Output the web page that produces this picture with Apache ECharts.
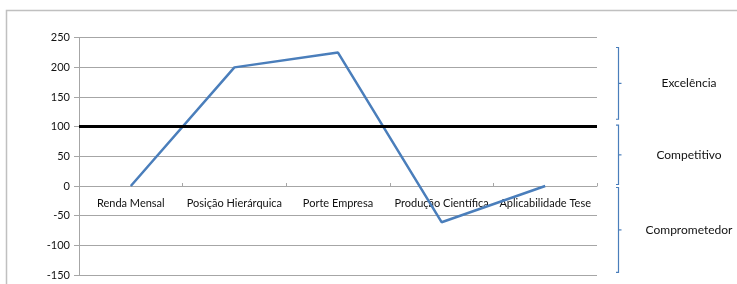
<!DOCTYPE html>
<html>
<head>
<meta charset="utf-8">
<script src="https://cdn.jsdelivr.net/npm/echarts@6/dist/echarts.min.js"></script>
<style>
  html, body { margin: 0; padding: 0; background: #fff; }
  #chart { width: 737px; height: 284px; }
</style>
</head>
<body>
<div id="chart"></div>
<script>
// data
const categories = ['Renda Mensal', 'Posição Hierárquica', 'Porte Empresa', 'Produção Científica', 'Aplicabilidade Tese'];
const scores = [0, 200, 225, -61, 0];
const threshold = 100;
// bracket bands on the right: [name, top value, bottom value]
const bandNames = ['Excelência', 'Competitivo', 'Comprometedor'];
const bandTops = [236, 105, 0];
const bandBottoms = [110, 0, -148];

const FONT = 'Lato, "Liberation Sans", sans-serif';
const blue = '#4a7ebb';
const gridGray = '#a6a6a6';

const chartDom = document.getElementById('chart');
const myChart = echarts.init(chartDom, null, { renderer: 'canvas' });

const option = {
  animation: false,
  grid: { left: 79, right: 140, top: 37.7, bottom: 9, containLabel: false, outerBoundsMode: 'none' },
  xAxis: {
    type: 'category',
    data: categories,
    boundaryGap: true,
    position: 'bottom',
    offset: 0,
    axisLine: { onZero: false, lineStyle: { color: gridGray, width: 1 } },
    axisTick: { show: true, inside: true, length: 3, lineStyle: { color: gridGray } },
    axisLabel: { color: '#111', fontSize: 11, fontFamily: FONT, margin: 12, interval: 0, hideOverlap: false },
    splitLine: { show: false }
  },
  yAxis: {
    type: 'value',
    min: -150,
    max: 250,
    interval: 50,
    axisLine: { show: true, lineStyle: { color: gridGray, width: 1 } },
    axisTick: { show: true, length: 5, lineStyle: { color: gridGray } },
    axisLabel: { color: '#111', fontSize: 11, fontFamily: FONT, margin: 9 },
    splitLine: { show: true, lineStyle: { color: gridGray, width: 1 } }
  },
  series: [
    {
      type: 'line',
      data: scores,
      symbol: 'none',
      lineStyle: { color: blue, width: 2.5 },
      z: 3,
      markLine: {
        silent: true,
        symbol: 'none',
        label: { show: false },
        lineStyle: { color: '#000', width: 3, type: 'solid' },
        data: [{ yAxis: threshold }]
      }
    }
  ]
};

myChart.setOption(option);

// move the category axis up onto the zero line (labels follow it)
const yZero = myChart.convertToPixel({ yAxisIndex: 0 }, 0);
const yMin = myChart.convertToPixel({ yAxisIndex: 0 }, -150);
myChart.setOption({ xAxis: { offset: -(yMin - yZero) } });

// brackets + band labels, placed with the chart's own y scale
const bracketX = 618.5;
const labelX = 689;
const graphics = [
  {
    type: 'rect',
    shape: { x: 6.5, y: 10.5, width: 800, height: 400 },
    style: { fill: 'none', stroke: '#c0c0c0', lineWidth: 1.5 },
    silent: true
  }
];
bandNames.forEach((name, i) => {
  const yTop = myChart.convertToPixel({ yAxisIndex: 0 }, bandTops[i]) + 1.5;
  const yBot = myChart.convertToPixel({ yAxisIndex: 0 }, bandBottoms[i]) - 1.5;
  const yMid = (yTop + yBot) / 2;
  graphics.push({
    type: 'polyline',
    shape: { points: [[bracketX - 2.5, yTop], [bracketX, yTop], [bracketX, yBot], [bracketX - 2.5, yBot]] },
    style: { fill: 'none', stroke: blue, lineWidth: 1.2 },
    silent: true
  });
  graphics.push({
    type: 'line',
    shape: { x1: bracketX, y1: yMid, x2: bracketX + 3, y2: yMid },
    style: { stroke: blue, lineWidth: 1.2 },
    silent: true
  });
  graphics.push({
    type: 'text',
    x: labelX,
    y: yMid,
    style: {
      text: name,
      fill: '#111',
      font: '12px ' + FONT,
      align: 'center',
      verticalAlign: 'middle'
    },
    silent: true
  });
});
myChart.setOption({ graphic: graphics });
</script>
</body>
</html>
